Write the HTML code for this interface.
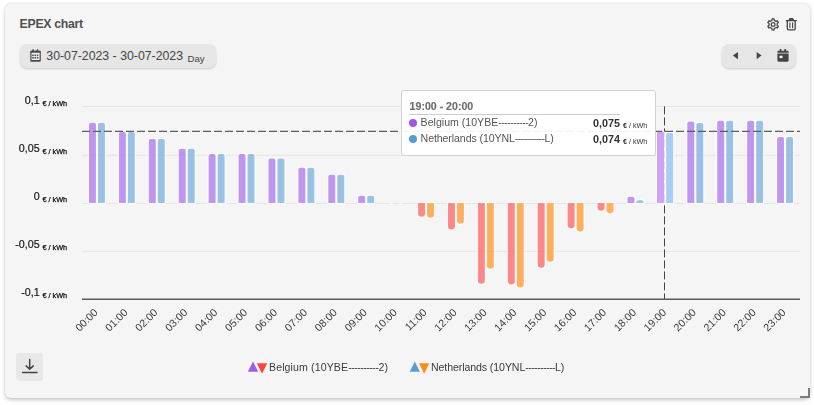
<!DOCTYPE html>
<html><head><meta charset="utf-8"><title>EPEX chart</title>
<style>
html,body{margin:0;padding:0;background:#fff;}
body{width:814px;height:405px;overflow:hidden;position:relative;font-family:"Liberation Sans",sans-serif;}
.card{position:absolute;left:5px;top:3px;width:805px;height:395px;background:#f5f5f5;border-radius:6px;box-shadow:0 2px 4px rgba(0,0,0,.21),0 1px 1px rgba(0,0,0,.05),inset 0 1px 0 rgba(0,0,0,.03),0 0 1px rgba(0,0,0,.06);}
.title{position:absolute;left:19.6px;top:17px;font-size:12.3px;font-weight:bold;color:#505050;line-height:14px;white-space:nowrap;letter-spacing:-0.3px;}
.pill{position:absolute;background:#e6e6e6;border-radius:7px;box-shadow:0 1px 2px rgba(0,0,0,.18);}
.date{left:19.5px;top:44px;width:196px;height:24px;}
.date .txt{position:absolute;left:26.8px;top:5.2px;font-size:12.3px;color:#444;line-height:14px;white-space:nowrap;}
.date .txt sub{font-size:9.6px;vertical-align:baseline;position:relative;top:1.4px;margin-left:1px;}
.nav{left:722px;top:44px;width:74px;height:24px;}
svg{position:absolute;left:0;top:0;}
.yl,.lg{will-change:transform;}
.yl{position:absolute;left:0;width:67.2px;text-align:right;font-size:10.7px;color:#161616;line-height:14px;white-space:nowrap;-webkit-text-stroke:0.2px #161616;}
.yl .u{font-size:7.3px;position:relative;top:1.9px;margin-left:.8px;color:#111;-webkit-text-stroke:0.25px #111;}
.xl text{font-family:"Liberation Sans",sans-serif;font-size:10.6px;fill:#3c3c3c;}
.tip{position:absolute;left:401px;top:90px;width:253px;height:64px;background:rgba(255,255,255,.93);border:1px solid #d2d2d2;border-radius:3px;}
.tip .h{position:absolute;left:7.6px;top:8.3px;font-size:10.6px;font-weight:bold;color:#6c6c6c;-webkit-text-stroke:.15px #6c6c6c;line-height:14px;}
.tip .sep{position:absolute;left:6.7px;top:23px;width:211.3px;height:1px;background:#ccc;}
.tip .row{position:absolute;left:7px;width:211.5px;height:14px;font-size:10.7px;color:#555;line-height:14px;white-space:nowrap;}
.tip .dot{position:absolute;left:0;top:3px;width:8px;height:8px;border-radius:50%;}
.tip .nm{position:absolute;left:11.6px;top:-0.7px;font-size:10.6px;}
.tip .val{position:absolute;right:0.5px;top:0;font-weight:bold;font-size:10.8px;color:#333;}
.tip .un{position:absolute;left:221px;top:3.4px;font-size:7.2px;color:#333;font-weight:bold;}
.tip .un b{font-weight:normal;}
.dl{position:absolute;left:15.6px;top:353px;width:27.5px;height:28px;background:#e8e8e8;border-radius:3px;}
.nl{letter-spacing:-0.1px;}
i{font-style:normal;letter-spacing:-0.55px;}
.lg{position:absolute;top:360.4px;font-size:10.6px;color:#3c3c3c;line-height:14px;white-space:nowrap;}
</style></head><body>
<div class="card"></div>
<div class="title">EPEX chart</div>

<div class="pill date"><div class="txt">30-07-2023 - 30-07-2023 <sub>Day</sub></div></div>
<div class="pill nav"></div>

<svg width="814" height="405" viewBox="0 0 814 405">
<!-- grid -->
<line x1="82.0" x2="800.0" y1="106.5" y2="106.5" stroke="#e6e6e6" stroke-width="1"/>
<line x1="82.0" x2="800.0" y1="155.3" y2="155.3" stroke="#e6e6e6" stroke-width="1"/>
<line x1="82.0" x2="800.0" y1="203.5" y2="203.5" stroke="#e6e6e6" stroke-width="1"/>
<line x1="82.0" x2="800.0" y1="251.4" y2="251.4" stroke="#e6e6e6" stroke-width="1"/>

<!-- vertical crosshair -->
<line x1="664.5" x2="664.5" y1="106.4" y2="299" stroke="#444" stroke-width="1" stroke-dasharray="8 3"/>
<!-- bars -->
<path d="M88.96 203.00V124.60Q88.96 122.80 90.76 122.80H94.16Q95.96 122.80 95.96 124.60V203.00Z" fill="#9d5ce8" fill-opacity="0.620" stroke="#fff" stroke-width="2" stroke-opacity=".85" style="paint-order:stroke"/>
<path d="M97.96 203.00V124.60Q97.96 122.80 99.76 122.80H103.16Q104.96 122.80 104.96 124.60V203.00Z" fill="#62a0d8" fill-opacity="0.620" stroke="#fff" stroke-width="2" stroke-opacity=".85" style="paint-order:stroke"/>
<path d="M118.88 203.00V133.80Q118.88 132.00 120.67 132.00H124.08Q125.88 132.00 125.88 133.80V203.00Z" fill="#9d5ce8" fill-opacity="0.620" stroke="#fff" stroke-width="2" stroke-opacity=".85" style="paint-order:stroke"/>
<path d="M127.88 203.00V133.80Q127.88 132.00 129.68 132.00H133.07Q134.88 132.00 134.88 133.80V203.00Z" fill="#62a0d8" fill-opacity="0.620" stroke="#fff" stroke-width="2" stroke-opacity=".85" style="paint-order:stroke"/>
<path d="M148.79 203.00V140.70Q148.79 138.90 150.59 138.90H153.99Q155.79 138.90 155.79 140.70V203.00Z" fill="#9d5ce8" fill-opacity="0.620" stroke="#fff" stroke-width="2" stroke-opacity=".85" style="paint-order:stroke"/>
<path d="M157.79 203.00V140.70Q157.79 138.90 159.59 138.90H162.99Q164.79 138.90 164.79 140.70V203.00Z" fill="#62a0d8" fill-opacity="0.620" stroke="#fff" stroke-width="2" stroke-opacity=".85" style="paint-order:stroke"/>
<path d="M178.71 203.00V150.60Q178.71 148.80 180.51 148.80H183.91Q185.71 148.80 185.71 150.60V203.00Z" fill="#9d5ce8" fill-opacity="0.620" stroke="#fff" stroke-width="2" stroke-opacity=".85" style="paint-order:stroke"/>
<path d="M187.71 203.00V150.60Q187.71 148.80 189.51 148.80H192.91Q194.71 148.80 194.71 150.60V203.00Z" fill="#62a0d8" fill-opacity="0.620" stroke="#fff" stroke-width="2" stroke-opacity=".85" style="paint-order:stroke"/>
<path d="M208.62 203.00V155.80Q208.62 154.00 210.43 154.00H213.82Q215.62 154.00 215.62 155.80V203.00Z" fill="#9d5ce8" fill-opacity="0.620" stroke="#fff" stroke-width="2" stroke-opacity=".85" style="paint-order:stroke"/>
<path d="M217.62 203.00V155.80Q217.62 154.00 219.43 154.00H222.82Q224.62 154.00 224.62 155.80V203.00Z" fill="#62a0d8" fill-opacity="0.620" stroke="#fff" stroke-width="2" stroke-opacity=".85" style="paint-order:stroke"/>
<path d="M238.54 203.00V155.80Q238.54 154.00 240.34 154.00H243.74Q245.54 154.00 245.54 155.80V203.00Z" fill="#9d5ce8" fill-opacity="0.620" stroke="#fff" stroke-width="2" stroke-opacity=".85" style="paint-order:stroke"/>
<path d="M247.54 203.00V155.80Q247.54 154.00 249.34 154.00H252.74Q254.54 154.00 254.54 155.80V203.00Z" fill="#62a0d8" fill-opacity="0.620" stroke="#fff" stroke-width="2" stroke-opacity=".85" style="paint-order:stroke"/>
<path d="M268.46 203.00V160.40Q268.46 158.60 270.26 158.60H273.66Q275.46 158.60 275.46 160.40V203.00Z" fill="#9d5ce8" fill-opacity="0.620" stroke="#fff" stroke-width="2" stroke-opacity=".85" style="paint-order:stroke"/>
<path d="M277.46 203.00V160.40Q277.46 158.60 279.26 158.60H282.66Q284.46 158.60 284.46 160.40V203.00Z" fill="#62a0d8" fill-opacity="0.620" stroke="#fff" stroke-width="2" stroke-opacity=".85" style="paint-order:stroke"/>
<path d="M298.38 203.00V169.60Q298.38 167.80 300.18 167.80H303.57Q305.38 167.80 305.38 169.60V203.00Z" fill="#9d5ce8" fill-opacity="0.620" stroke="#fff" stroke-width="2" stroke-opacity=".85" style="paint-order:stroke"/>
<path d="M307.38 203.00V169.60Q307.38 167.80 309.18 167.80H312.57Q314.38 167.80 314.38 169.60V203.00Z" fill="#62a0d8" fill-opacity="0.620" stroke="#fff" stroke-width="2" stroke-opacity=".85" style="paint-order:stroke"/>
<path d="M328.29 203.00V176.50Q328.29 174.70 330.09 174.70H333.49Q335.29 174.70 335.29 176.50V203.00Z" fill="#9d5ce8" fill-opacity="0.620" stroke="#fff" stroke-width="2" stroke-opacity=".85" style="paint-order:stroke"/>
<path d="M337.29 203.00V176.50Q337.29 174.70 339.09 174.70H342.49Q344.29 174.70 344.29 176.50V203.00Z" fill="#62a0d8" fill-opacity="0.620" stroke="#fff" stroke-width="2" stroke-opacity=".85" style="paint-order:stroke"/>
<path d="M358.21 203.00V197.50Q358.21 195.70 360.01 195.70H363.41Q365.21 195.70 365.21 197.50V203.00Z" fill="#9d5ce8" fill-opacity="0.620" stroke="#fff" stroke-width="2" stroke-opacity=".85" style="paint-order:stroke"/>
<path d="M367.21 203.00V197.50Q367.21 195.70 369.01 195.70H372.41Q374.21 195.70 374.21 197.50V203.00Z" fill="#62a0d8" fill-opacity="0.620" stroke="#fff" stroke-width="2" stroke-opacity=".85" style="paint-order:stroke"/>
<rect x="390.23" y="202.80" width="2.7" height="1.4" fill="#f8f8f8"/>
<rect x="399.23" y="202.80" width="2.7" height="1.4" fill="#f8f8f8"/>
<path d="M418.04 203.00V213.40Q418.04 216.70 421.34 216.70H421.74Q425.04 216.70 425.04 213.40V203.00Z" fill="#ff4545" fill-opacity="0.620" stroke="#fff" stroke-width="2" stroke-opacity=".85" style="paint-order:stroke"/>
<path d="M427.04 203.00V214.50Q427.04 217.80 430.34 217.80H430.74Q434.04 217.80 434.04 214.50V203.00Z" fill="#ff8606" fill-opacity="0.620" stroke="#fff" stroke-width="2" stroke-opacity=".85" style="paint-order:stroke"/>
<path d="M447.96 203.00V226.30Q447.96 229.60 451.26 229.60H451.66Q454.96 229.60 454.96 226.30V203.00Z" fill="#ff4545" fill-opacity="0.620" stroke="#fff" stroke-width="2" stroke-opacity=".85" style="paint-order:stroke"/>
<path d="M456.96 203.00V220.40Q456.96 223.70 460.26 223.70H460.66Q463.96 223.70 463.96 220.40V203.00Z" fill="#ff8606" fill-opacity="0.620" stroke="#fff" stroke-width="2" stroke-opacity=".85" style="paint-order:stroke"/>
<path d="M477.88 203.00V280.40Q477.88 283.70 481.18 283.70H481.57Q484.88 283.70 484.88 280.40V203.00Z" fill="#ff4545" fill-opacity="0.620" stroke="#fff" stroke-width="2" stroke-opacity=".85" style="paint-order:stroke"/>
<path d="M486.88 203.00V265.40Q486.88 268.70 490.18 268.70H490.57Q493.88 268.70 493.88 265.40V203.00Z" fill="#ff8606" fill-opacity="0.620" stroke="#fff" stroke-width="2" stroke-opacity=".85" style="paint-order:stroke"/>
<path d="M507.79 203.00V281.20Q507.79 284.50 511.09 284.50H511.49Q514.79 284.50 514.79 281.20V203.00Z" fill="#ff4545" fill-opacity="0.620" stroke="#fff" stroke-width="2" stroke-opacity=".85" style="paint-order:stroke"/>
<path d="M516.79 203.00V284.30Q516.79 287.60 520.09 287.60H520.49Q523.79 287.60 523.79 284.30V203.00Z" fill="#ff8606" fill-opacity="0.620" stroke="#fff" stroke-width="2" stroke-opacity=".85" style="paint-order:stroke"/>
<path d="M537.71 203.00V264.40Q537.71 267.70 541.01 267.70H541.41Q544.71 267.70 544.71 264.40V203.00Z" fill="#ff4545" fill-opacity="0.620" stroke="#fff" stroke-width="2" stroke-opacity=".85" style="paint-order:stroke"/>
<path d="M546.71 203.00V258.40Q546.71 261.70 550.01 261.70H550.41Q553.71 261.70 553.71 258.40V203.00Z" fill="#ff8606" fill-opacity="0.620" stroke="#fff" stroke-width="2" stroke-opacity=".85" style="paint-order:stroke"/>
<path d="M567.62 203.00V225.10Q567.62 228.40 570.92 228.40H571.33Q574.62 228.40 574.62 225.10V203.00Z" fill="#ff4545" fill-opacity="0.620" stroke="#fff" stroke-width="2" stroke-opacity=".85" style="paint-order:stroke"/>
<path d="M576.62 203.00V228.20Q576.62 231.50 579.92 231.50H580.33Q583.62 231.50 583.62 228.20V203.00Z" fill="#ff8606" fill-opacity="0.620" stroke="#fff" stroke-width="2" stroke-opacity=".85" style="paint-order:stroke"/>
<path d="M597.54 203.00V207.40Q597.54 210.70 600.84 210.70H601.24Q604.54 210.70 604.54 207.40V203.00Z" fill="#ff4545" fill-opacity="0.620" stroke="#fff" stroke-width="2" stroke-opacity=".85" style="paint-order:stroke"/>
<path d="M606.54 203.00V210.10Q606.54 213.40 609.84 213.40H610.24Q613.54 213.40 613.54 210.10V203.00Z" fill="#ff8606" fill-opacity="0.620" stroke="#fff" stroke-width="2" stroke-opacity=".85" style="paint-order:stroke"/>
<path d="M627.46 203.00V198.60Q627.46 196.80 629.26 196.80H632.66Q634.46 196.80 634.46 198.60V203.00Z" fill="#9d5ce8" fill-opacity="0.620" stroke="#fff" stroke-width="2" stroke-opacity=".85" style="paint-order:stroke"/>
<path d="M636.46 203.00V202.10Q636.46 200.30 638.26 200.30H641.66Q643.46 200.30 643.46 202.10V203.00Z" fill="#62a0d8" fill-opacity="0.620" stroke="#fff" stroke-width="2" stroke-opacity=".85" style="paint-order:stroke"/>
<path d="M657.02 203.00V133.30Q657.02 131.50 658.82 131.50H662.23Q664.02 131.50 664.02 133.30V203.00Z" fill="#d0a0fa" fill-opacity="1.000" stroke="#fff" stroke-width="2" stroke-opacity=".85" style="paint-order:stroke"/>
<path d="M666.12 203.00V134.80Q666.12 133.00 667.92 133.00H671.33Q673.12 133.00 673.12 134.80V203.00Z" fill="#a8cdf5" fill-opacity="1.000" stroke="#fff" stroke-width="2" stroke-opacity=".85" style="paint-order:stroke"/>
<path d="M687.29 203.00V123.30Q687.29 121.50 689.09 121.50H692.49Q694.29 121.50 694.29 123.30V203.00Z" fill="#9d5ce8" fill-opacity="0.620" stroke="#fff" stroke-width="2" stroke-opacity=".85" style="paint-order:stroke"/>
<path d="M696.29 203.00V124.80Q696.29 123.00 698.09 123.00H701.49Q703.29 123.00 703.29 124.80V203.00Z" fill="#62a0d8" fill-opacity="0.620" stroke="#fff" stroke-width="2" stroke-opacity=".85" style="paint-order:stroke"/>
<path d="M717.21 203.00V122.50Q717.21 120.70 719.01 120.70H722.41Q724.21 120.70 724.21 122.50V203.00Z" fill="#9d5ce8" fill-opacity="0.620" stroke="#fff" stroke-width="2" stroke-opacity=".85" style="paint-order:stroke"/>
<path d="M726.21 203.00V122.50Q726.21 120.70 728.01 120.70H731.41Q733.21 120.70 733.21 122.50V203.00Z" fill="#62a0d8" fill-opacity="0.620" stroke="#fff" stroke-width="2" stroke-opacity=".85" style="paint-order:stroke"/>
<path d="M747.12 203.00V122.50Q747.12 120.70 748.92 120.70H752.33Q754.12 120.70 754.12 122.50V203.00Z" fill="#9d5ce8" fill-opacity="0.620" stroke="#fff" stroke-width="2" stroke-opacity=".85" style="paint-order:stroke"/>
<path d="M756.12 203.00V122.50Q756.12 120.70 757.92 120.70H761.33Q763.12 120.70 763.12 122.50V203.00Z" fill="#62a0d8" fill-opacity="0.620" stroke="#fff" stroke-width="2" stroke-opacity=".85" style="paint-order:stroke"/>
<path d="M777.04 203.00V138.80Q777.04 137.00 778.84 137.00H782.24Q784.04 137.00 784.04 138.80V203.00Z" fill="#9d5ce8" fill-opacity="0.620" stroke="#fff" stroke-width="2" stroke-opacity=".85" style="paint-order:stroke"/>
<path d="M786.04 203.00V138.80Q786.04 137.00 787.84 137.00H791.24Q793.04 137.00 793.04 138.80V203.00Z" fill="#62a0d8" fill-opacity="0.620" stroke="#fff" stroke-width="2" stroke-opacity=".85" style="paint-order:stroke"/>
<!-- axis -->
<line x1="82.0" x2="800.0" y1="299.2" y2="299.2" stroke="#5c5c5c" stroke-width="1.6"/>
<!-- crosshairs -->
<line x1="82.0" x2="800.0" y1="131.3" y2="131.3" stroke="#5e5e5e" stroke-width="1.35" stroke-dasharray="8 3"/>

<!-- calendar icon (date pill) -->
<rect x="30.9" y="51.3" width="9.3" height="9.6" rx=".9" fill="#f0f0f0" stroke="#4a4a4a" stroke-width="1.2"/>
<g fill="#4a4a4a">
<rect x="30.4" y="50.8" width="10.3" height="2" rx=".6"/>
<rect x="30.6" y="59.9" width="9.9" height="1.5" rx=".5"/>
<rect x="32.3" y="49.2" width="1.4" height="2.4" rx=".3"/>
<rect x="36.8" y="49.2" width="1.4" height="2.4" rx=".3"/>
<rect x="32.2" y="54.5" width="1.5" height="1.6"/><rect x="34.5" y="54.5" width="1.5" height="1.6"/><rect x="36.8" y="54.5" width="1.5" height="1.6"/>
<rect x="32.2" y="57.0" width="1.5" height="1.6"/><rect x="34.5" y="57.0" width="1.5" height="1.6"/><rect x="36.8" y="57.0" width="1.5" height="1.6"/>
</g>

<!-- nav icons -->
<g fill="#444">
<path d="M738 52V59.2L732.8 55.6Z"/>
<path d="M756.7 52V59.2L761.5 55.6Z"/>
<path d="M777.4 52.75v-1.1a.9.9 0 0 1 .9-.9h9.4a.9.9 0 0 1 .9.9v1.1Z"/>
<path d="M777.4 53.45h11.2v7.1a1.1 1.1 0 0 1-1.1 1.1h-9a1.1 1.1 0 0 1-1.1-1.1Z"/>
<rect x="779.6" y="48.9" width="1.8" height="2.6" rx=".5"/>
<rect x="784.3" y="48.9" width="1.8" height="2.6" rx=".5"/>
</g>
<rect x="779.5" y="55.7" width="3" height="2.4" fill="#f4f4f4"/>

<!-- gear -->
<g fill="none" stroke="#444" stroke-width="1.25" stroke-linejoin="round">
<path d="M774.27 28.43L774.09 29.91L772.11 29.91L771.93 28.43L770.19 27.43L768.82 28.01L767.83 26.30L769.02 25.40L769.02 23.40L767.83 22.50L768.82 20.79L770.19 21.37L771.93 20.37L772.11 18.89L774.09 18.89L774.27 20.37L776.01 21.37L777.38 20.79L778.37 22.50L777.18 23.40L777.18 25.40L778.37 26.30L777.38 28.01L776.01 27.43Z"/>
<circle cx="773.1" cy="24.4" r="1.9"/>
</g>

<!-- trash -->
<g fill="none" stroke="#444" stroke-width="1.3" stroke-linejoin="round" stroke-linecap="round">
<path d="M787.3 21.2v7.4a1.2 1.2 0 0 0 1.2 1.2h5.5a1.2 1.2 0 0 0 1.2-1.2v-7.4"/>
<path d="M786.3 20.7h9.9"/>
<path d="M788.9 20.4l1.1-1.7h2.5l1.1 1.7Z" fill="#666"/>
<path d="M789.9 22.8v5M792.6 22.8v5" stroke-width="1.1"/>
</g>


<!-- legend markers -->
<path d="M247.8 371.8L253 361.4L258.2 371.8Z" fill="#9d5ce8"/>
<path d="M256.9 363.3H267.2L262.05 373.8Z" fill="#ff4343"/>
<path d="M409.7 371.8L414.8 361.4L419.9 371.8Z" fill="#5b9bd5"/>
<path d="M419 363.3H429.3L424.15 373.8Z" fill="#ff8c1a"/>

<!-- resize handle -->
<path d="M809 388v9h-9" fill="none" stroke="#7c7c7c" stroke-width="2"/>
</svg>

<svg class="xl" width="814" height="405" viewBox="0 0 814 405" style="will-change:transform">
<text transform="translate(92.06 306.8) rotate(-45)" text-anchor="end" dominant-baseline="hanging" dy="1">00:00</text>
<text transform="translate(121.97 306.8) rotate(-45)" text-anchor="end" dominant-baseline="hanging" dy="1">01:00</text>
<text transform="translate(151.89 306.8) rotate(-45)" text-anchor="end" dominant-baseline="hanging" dy="1">02:00</text>
<text transform="translate(181.81 306.8) rotate(-45)" text-anchor="end" dominant-baseline="hanging" dy="1">03:00</text>
<text transform="translate(211.72 306.8) rotate(-45)" text-anchor="end" dominant-baseline="hanging" dy="1">04:00</text>
<text transform="translate(241.64 306.8) rotate(-45)" text-anchor="end" dominant-baseline="hanging" dy="1">05:00</text>
<text transform="translate(271.56 306.8) rotate(-45)" text-anchor="end" dominant-baseline="hanging" dy="1">06:00</text>
<text transform="translate(301.48 306.8) rotate(-45)" text-anchor="end" dominant-baseline="hanging" dy="1">07:00</text>
<text transform="translate(331.39 306.8) rotate(-45)" text-anchor="end" dominant-baseline="hanging" dy="1">08:00</text>
<text transform="translate(361.31 306.8) rotate(-45)" text-anchor="end" dominant-baseline="hanging" dy="1">09:00</text>
<text transform="translate(391.23 306.8) rotate(-45)" text-anchor="end" dominant-baseline="hanging" dy="1">10:00</text>
<text transform="translate(421.14 306.8) rotate(-45)" text-anchor="end" dominant-baseline="hanging" dy="1">11:00</text>
<text transform="translate(451.06 306.8) rotate(-45)" text-anchor="end" dominant-baseline="hanging" dy="1">12:00</text>
<text transform="translate(480.98 306.8) rotate(-45)" text-anchor="end" dominant-baseline="hanging" dy="1">13:00</text>
<text transform="translate(510.89 306.8) rotate(-45)" text-anchor="end" dominant-baseline="hanging" dy="1">14:00</text>
<text transform="translate(540.81 306.8) rotate(-45)" text-anchor="end" dominant-baseline="hanging" dy="1">15:00</text>
<text transform="translate(570.73 306.8) rotate(-45)" text-anchor="end" dominant-baseline="hanging" dy="1">16:00</text>
<text transform="translate(600.64 306.8) rotate(-45)" text-anchor="end" dominant-baseline="hanging" dy="1">17:00</text>
<text transform="translate(630.56 306.8) rotate(-45)" text-anchor="end" dominant-baseline="hanging" dy="1">18:00</text>
<text transform="translate(660.48 306.8) rotate(-45)" text-anchor="end" dominant-baseline="hanging" dy="1">19:00</text>
<text transform="translate(690.39 306.8) rotate(-45)" text-anchor="end" dominant-baseline="hanging" dy="1">20:00</text>
<text transform="translate(720.31 306.8) rotate(-45)" text-anchor="end" dominant-baseline="hanging" dy="1">21:00</text>
<text transform="translate(750.23 306.8) rotate(-45)" text-anchor="end" dominant-baseline="hanging" dy="1">22:00</text>
<text transform="translate(780.14 306.8) rotate(-45)" text-anchor="end" dominant-baseline="hanging" dy="1">23:00</text>
</svg>
<div class="yl" style="top:93.2px">0,1<span class="u"> € / kWh</span></div>
<div class="yl" style="top:141.2px">0,05<span class="u"> € / kWh</span></div>
<div class="yl" style="top:189.2px">0<span class="u"> € / kWh</span></div>
<div class="yl" style="top:237.2px">-0,05<span class="u"> € / kWh</span></div>
<div class="yl" style="top:285.2px">-0,1<span class="u"> € / kWh</span></div>

<div class="dl"></div>
<svg width="814" height="405" viewBox="0 0 814 405" style="pointer-events:none">
<g fill="none" stroke="#444" stroke-width="1.5" stroke-linecap="round" stroke-linejoin="round">
<path d="M29.7 359.6v9.4M26.2 365.9l3.5 3.4 3.5-3.4"/>
<path d="M22.6 372.4h14.4"/>
</g>
</svg>

<div class="lg" style="left:269.4px;letter-spacing:.1px">Belgium (10YBE<i style="letter-spacing:-.5px">----------</i>2)</div>
<div class="lg nl" style="left:430.9px">Netherlands (10YNL<i>----------</i>L)</div>

<div class="tip">
<div class="h">19:00 - 20:00</div>
<div class="sep"></div>
<div class="row" style="top:25px"><span class="dot" style="background:#a259e6"></span><span class="nm">Belgium (10YBE<i>----------</i>2)</span><span class="val">0,075</span></div>
<div class="un" style="top:29.6px">€ <b>/ kWh</b></div>
<div class="row" style="top:41px"><span class="dot" style="background:#5b9bd5"></span><span class="nm nl">Netherlands (10YNL<i>----------</i>L)</span><span class="val">0,074</span></div>
<div class="un" style="top:45.6px">€ <b>/ kWh</b></div>
</div>
</body></html>
